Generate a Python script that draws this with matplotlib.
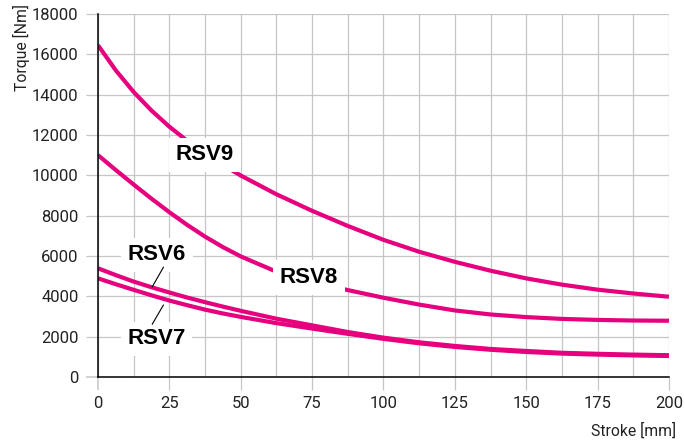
import numpy as np
import matplotlib
matplotlib.use('Agg')
import matplotlib.pyplot as plt

plt.rcParams['font.family'] = ['Liberation Sans', 'DejaVu Sans']

# stroke in mm, torque in Nm
stroke = [0, 6.25, 12.5, 18.75, 25, 31.25, 37.5, 43.75, 50,
          62.5, 75, 87.5, 100, 112.5, 125, 137.5, 150, 162.5, 175, 187.5, 200]
rsv9 = [16450, 15200, 14130, 13210, 12410, 11710, 11080, 10510, 9990,
        9060, 8240, 7490, 6800, 6210, 5710, 5270, 4890, 4580, 4330, 4140, 3980]
rsv8 = [11000, 10260, 9540, 8840, 8170, 7540, 6960, 6440, 5980,
        5220, 4700, 4310, 3930, 3590, 3300, 3100, 2970, 2880, 2830, 2800, 2790]
rsv6 = [5390, 5050, 4730, 4450, 4190, 3940, 3710, 3490, 3280,
        2890, 2560, 2230, 1950, 1720, 1540, 1390, 1290, 1200, 1150, 1110, 1080]
rsv7 = [4890, 4600, 4320, 4050, 3790, 3560, 3340, 3150, 2980,
        2670, 2400, 2140, 1890, 1670, 1490, 1350, 1240, 1160, 1110, 1070, 1040]

magenta = '#E6007E'
gridc = '#c6c6c6'
txtc = '#222222'
tickfont = ['Roboto', 'Liberation Sans', 'DejaVu Sans']

fig = plt.figure(figsize=(6.85, 4.48), dpi=100)
ax = fig.add_axes([0.1431, 0.1585, 0.8335, 0.8103])

for y in [rsv9, rsv8, rsv6, rsv7]:
    ax.plot(stroke, y, color=magenta, lw=3.0, solid_capstyle='butt',
            solid_joinstyle='round', zorder=3)

ax.set_xlim(0, 200)
ax.set_ylim(0, 18000)
ax.set_xticks(np.arange(0, 201, 25))
ax.set_xticks(np.arange(12.5, 200, 25), minor=True)
ax.set_yticks(np.arange(0, 18001, 2000))

ax.grid(True, which='both', axis='x', color=gridc, lw=0.9, zorder=1)
ax.grid(True, which='major', axis='y', color=gridc, lw=0.9, zorder=1)
ax.set_axisbelow(True)

ax.tick_params(axis='both', which='major', length=9, width=0.9, color=gridc,
               labelsize=12, labelcolor=txtc, pad=5)
ax.tick_params(axis='x', which='minor', length=0)
for lbl in ax.get_xticklabels() + ax.get_yticklabels():
    lbl.set_family(tickfont)
ax.xaxis.get_major_ticks()[0].tick1line.set_color('black')
ax.yaxis.get_major_ticks()[0].tick1line.set_color('black')
ax.xaxis.get_major_ticks()[0].tick1line.set_markeredgewidth(1.1)
ax.yaxis.get_major_ticks()[0].tick1line.set_markeredgewidth(1.1)

for s in ['top', 'right']:
    ax.spines[s].set_visible(False)
for s in ['left', 'bottom']:
    ax.spines[s].set_color('black')
    ax.spines[s].set_linewidth(1.1)
    ax.spines[s].set_zorder(4)

box = dict(boxstyle='square,pad=0.3', fc='white', ec='none')
lab = dict(fontsize=16, fontweight='bold', ha='center', va='center',
           bbox=box, zorder=5)
ax.text(37.5, 11020, 'RSV9', **lab)
ax.text(73.9, 4930, 'RSV8', **lab)
ax.text(20.7, 6050, 'RSV6', **lab)
ax.text(20.5, 1900, 'RSV7', **lab)

ax.plot([22.9, 19.0], [5440, 4470], color='black', lw=0.8, zorder=6)
ax.plot([22.9, 19.0], [3565, 2620], color='black', lw=0.8, zorder=6)

fig.text(0.032, 0.99, 'Torque [Nm]', rotation=90, ha='center', va='top',
         fontsize=11.3, color=txtc, family=tickfont)
fig.text(0.987, 0.02, 'Stroke [mm]', ha='right', va='bottom',
         fontsize=11.3, color=txtc, family=tickfont)

fig.savefig('out.png', dpi=100)
